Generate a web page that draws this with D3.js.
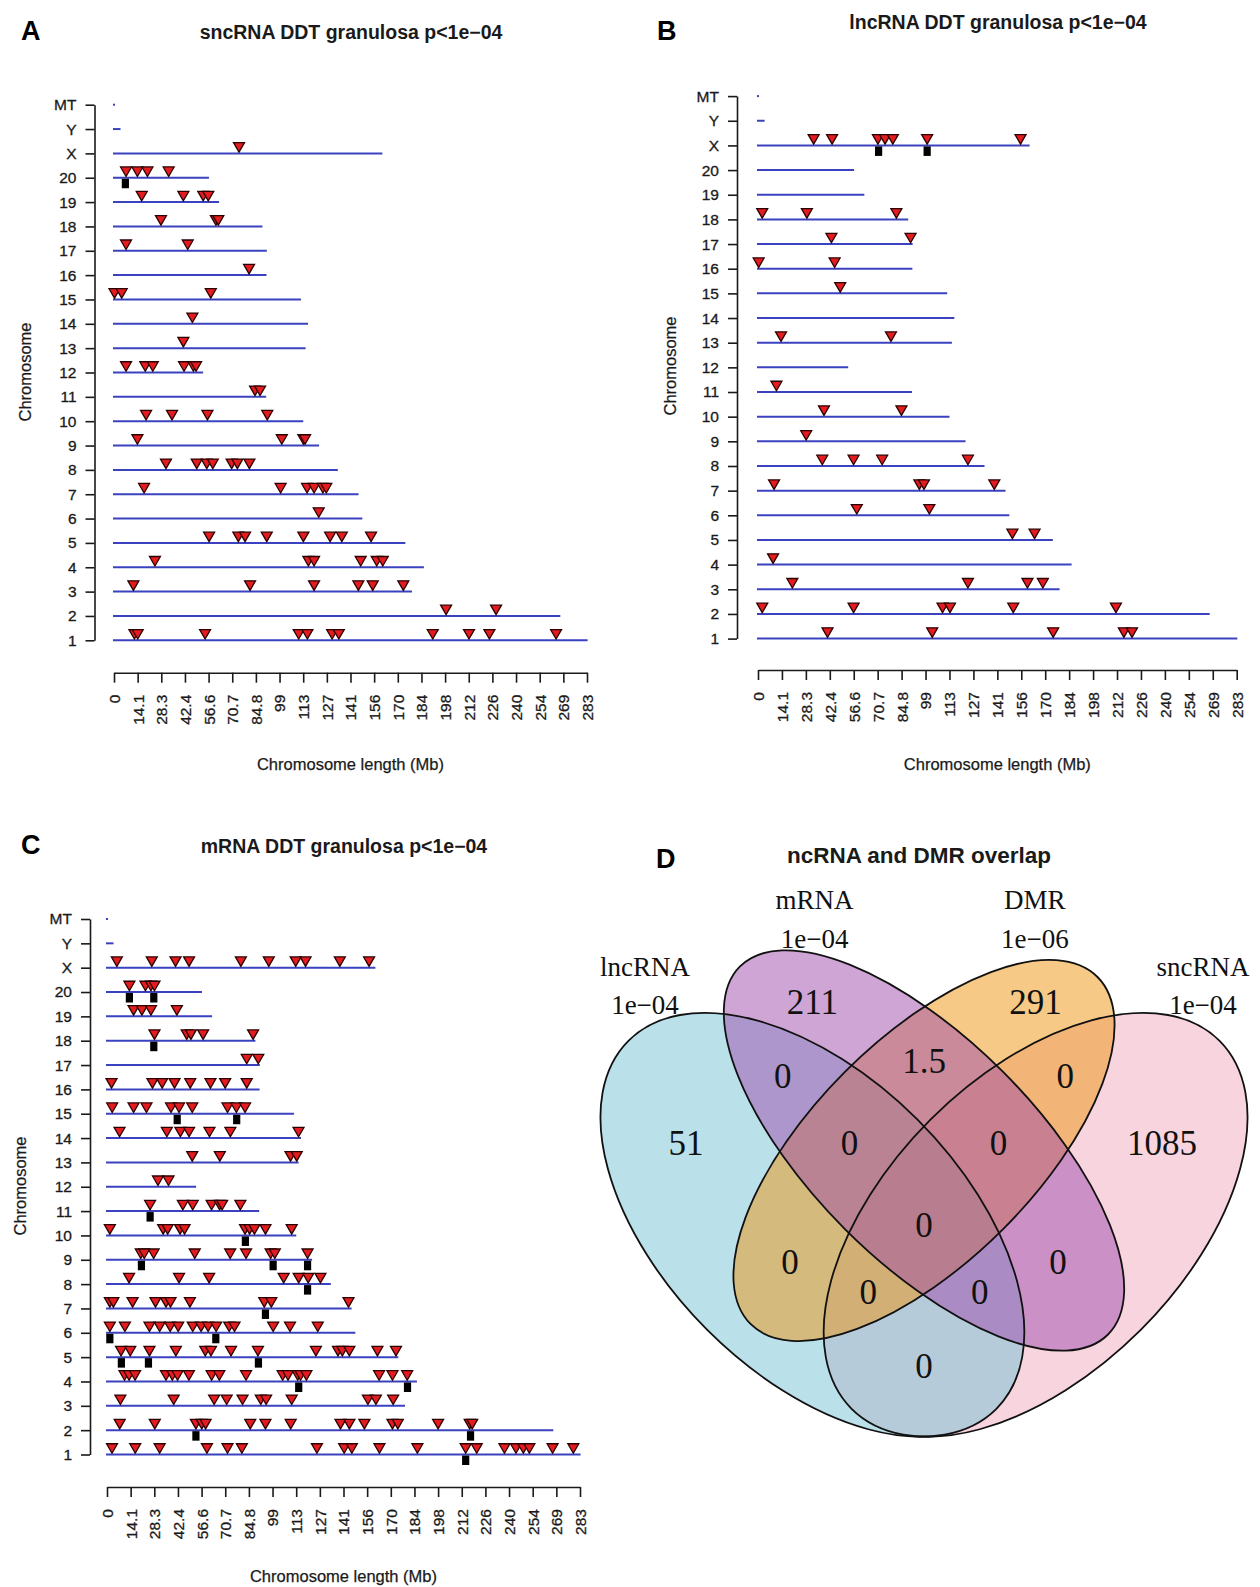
<!DOCTYPE html>
<html>
<head>
<meta charset="utf-8">
<script src="https://cdn.jsdelivr.net/npm/d3@7"></script>
<style>
  body { margin: 0; background: #fff; }
  svg { display: block; font-family: "Liberation Sans", Arial, Helvetica, sans-serif; }
</style>
</head>
<body>
<svg id="fig" width="1260" height="1587"></svg>
<script>

// =========================
// DATA
// =========================

const chromNames = ['1', '2', '3', '4', '5', '6', '7', '8', '9', '10', '11', '12', '13',
  '14', '15', '16', '17', '18', '19', '20', 'X', 'Y', 'MT'];

// rat chromosome lengths (Mb)
const chromLengthsMb = [282.76, 266.44, 177.70, 184.82, 173.71, 147.99, 145.73, 133.31,
  122.10, 112.63, 90.46, 52.72, 114.03, 115.49, 111.25, 90.67, 90.84, 88.20, 62.28, 56.21,
  159.97, 3.31, 0.016];

const xTickValues = [0, 14.15, 28.3, 42.45, 56.6, 70.75, 84.9, 99.05, 113.2, 127.35, 141.5,
  155.65, 169.8, 183.95, 198.1, 212.25, 226.4, 240.55, 254.7, 268.85, 283];
const xTickLabels = ['0', '14.1', '28.3', '42.4', '56.6', '70.7', '84.8', '99', '113', '127',
  '141', '156', '170', '184', '198', '212', '226', '240', '254', '269', '283'];

// significant features per chromosome (Mb)
const sncrnaHits = [
  ['1', [12.2, 14.2, 54.5, 110.5, 115.7, 130.5, 134.5, 190.7, 212.4, 224.6, 264.5]],
  ['2', [198.7, 228.6]],
  ['3', [11.6, 81.4, 119.7, 146.2, 154.8, 173.1]],
  ['4', [24.5, 116.3, 119.7, 147.6, 157.2, 160.8]],
  ['5', [56.9, 74.4, 78.4, 91.4, 113.3, 129.3, 136.3, 153.8]],
  ['6', [122.5]],
  ['7', [18.0, 99.7, 115.5, 119.7, 125.0, 127.0]],
  ['8', [31.1, 49.5, 55.5, 59.1, 70.4, 73.8, 81.0]],
  ['9', [14.0, 100.4, 113.3, 114.3]],
  ['10', [19.2, 34.7, 55.9, 91.7]],
  ['11', [84.4, 87.4]],
  ['12', [7.2, 18.7, 23.2, 41.9, 47.5, 49.1]],
  ['13', [41.5]],
  ['14', [46.9]],
  ['15', [0.3, 4.6, 57.9]],
  ['16', [80.8]],
  ['17', [7.2, 44.1]],
  ['18', [28.1, 61.0, 62.4]],
  ['19', [16.6, 41.5, 53.4, 56.4]],
  ['20', [7.2, 14.0, 20.0, 32.7]],
  ['X', [74.8]]
];
const sncrnaDmr = [['20', [6.8]]];

const lncrnaHits = [
  ['1', [41.1, 103.0, 174.5, 216.3, 221.1]],
  ['2', [2.5, 56.5, 109.1, 113.5, 150.9, 211.6]],
  ['3', [20.3, 124.1, 159.3, 168.4]],
  ['4', [8.9]],
  ['5', [150.4, 163.5]],
  ['6', [58.4, 101.3]],
  ['7', [9.5, 95.4, 98.1, 139.7]],
  ['8', [38.0, 56.5, 73.4, 124.1]],
  ['9', [28.5]],
  ['10', [39.0, 84.8]],
  ['11', [10.9]],
  ['13', [13.6, 78.6]],
  ['15', [48.6]],
  ['16', [0.4, 45.3]],
  ['17', [43.4, 90.2]],
  ['18', [2.5, 28.9, 81.8]],
  ['X', [32.9, 43.8, 70.9, 75.1, 79.7, 100.0, 155.2]]
];
const lncrnaDmr = [['X', [71.3, 100.0]]];

const mrnaHits = [
  ['1', [3.0, 16.9, 31.5, 59.8, 72.1, 80.7, 125.6, 141.9, 146.5, 163.0, 185.7, 214.6, 221.2,
    237.8, 244.7, 249.1, 252.7, 266.6, 279.0]],
  ['2', [7.6, 28.6, 53.2, 56.7, 59.0, 85.7, 94.8, 109.9, 139.7, 145.0, 154.0, 170.8, 174.0,
    198.1, 217.0, 218.5]],
  ['3', [8.0, 39.9, 64.1, 71.6, 81.1, 92.0, 95.2, 110.5, 156.1, 160.9, 171.2]],
  ['4', [10.5, 13.2, 16.8, 35.3, 39.1, 42.2, 49.0, 62.6, 67.2, 83.2, 105.1, 108.3, 114.1,
    115.8, 119.3, 162.8, 170.8, 179.6]],
  ['5', [8.4, 13.9, 25.4, 41.2, 58.8, 62.2, 74.2, 90.3, 125.0, 138.2, 140.8, 145.0, 161.8, 172.9]],
  ['6', [1.7, 10.7, 25.4, 31.5, 37.8, 42.6, 51.3, 56.3, 60.5, 65.3, 73.1, 76.3, 99.4, 109.5, 126.1]],
  ['7', [1.7, 3.8, 15.3, 29.0, 35.3, 38.0, 49.6, 94.1, 98.3, 144.5]],
  ['8', [13.2, 43.1, 61.1, 105.7, 114.7, 120.4, 127.7]],
  ['9', [20.2, 22.3, 27.9, 52.5, 73.7, 83.2, 97.9, 100.4, 120.0]],
  ['10', [1.7, 33.6, 36.3, 43.7, 46.4, 82.6, 85.3, 88.2, 94.8, 110.5]],
  ['11', [25.8, 45.4, 51.3, 62.6, 67.4, 68.9, 79.8]],
  ['12', [30.5, 36.8]],
  ['13', [51.0, 67.5, 109.8, 113.5]],
  ['14', [7.5, 35.8, 43.9, 49.1, 61.3, 73.8, 114.6]],
  ['15', [3.1, 15.9, 23.6, 38.3, 43.1, 51.0, 72.1, 77.4, 82.6]],
  ['16', [2.7, 27.2, 33.0, 40.4, 49.8, 61.9, 70.7, 83.6]],
  ['17', [83.6, 90.5]],
  ['18', [28.4, 47.7, 50.2, 57.5, 87.4]],
  ['19', [15.9, 20.9, 26.3, 41.8]],
  ['20', [13.4, 23.0, 26.3, 28.4]],
  ['X', [5.9, 26.8, 41.0, 49.1, 80.1, 96.8, 112.9, 118.8, 139.3, 156.8]]
];
const mrnaDmr = [
  ['1', [214.6]], ['2', [53.2, 217.5]], ['4', [114.7, 179.8]], ['5', [8.6, 24.8, 90.6]],
  ['6', [1.7, 65.1]], ['7', [94.8]], ['8', [120.0]], ['9', [20.6, 99.4, 120.0]],
  ['10', [82.8]], ['11', [25.8]], ['15', [42.0, 77.6]], ['18', [28.0]], ['20', [13.4, 28.0]]
];

// Venn diagram
const vennSets = ['lncRNA', 'mRNA', 'DMR', 'sncRNA'];
const vennThresholds = ['1e\u221204', '1e\u221204', '1e\u221206', '1e\u221204'];
// regions in VennDiagram quad order a1..a15
const vennCounts = ['211', '1.5', '291', '0', '0', '0', '0', '0', '51', '0', '0', '0', '0', '0', '1085'];

// =========================
// SETUP
// =========================

const svg = d3.select('#fig');
const ink = '#1a1a1a';

const flatten = list => list.flatMap(([c, ps]) => ps.map(p => ({ c, p })));

// =========================
// CHROMOSOME PANEL
// =========================

function drawPanel(p, hits, dmr) {

  const g = svg.append('g');

  const x = d3.scaleLinear()
    .domain([0, 283])
    .range([p.x0, p.x1]);

  const y = d3.scalePoint()
    .domain(chromNames)
    .range([p.yBot, p.yTop]);

  // chromosome backbones
  g.selectAll('.chr')
    .data(chromNames)
    .join('line')
    .attr('class', 'chr')
    .attr('x1', x(0))
    .attr('x2', (d, i) => x(chromLengthsMb[i]))
    .attr('y1', d => y(d))
    .attr('y2', d => y(d))
    .attr('stroke', '#3a42c0')
    .attr('stroke-width', 2)
    .attr('stroke-linecap', 'square');

  // y axis
  const ya = g.append('g')
    .attr('transform', `translate(${p.axisX},0)`)
    .call(d3.axisLeft(y).tickSize(9).tickPadding(9).tickSizeOuter(0))
    .attr('font-family', null)
    .attr('font-size', 15.5)
    .style('color', ink);
  ya.selectAll('path, line').attr('stroke-width', 1.6);
  ya.selectAll('text').attr('stroke', ink).attr('stroke-width', 0.3);

  // x axis
  const xa = g.append('g')
    .attr('transform', `translate(0,${p.xAxisY})`)
    .call(d3.axisBottom(x)
      .tickValues(xTickValues)
      .tickFormat((d, i) => xTickLabels[i])
      .tickSize(10)
      .tickSizeOuter(0))
    .attr('font-family', null)
    .attr('font-size', 15.5)
    .style('color', ink);
  xa.selectAll('path, line').attr('stroke-width', 1.6);
  xa.selectAll('text')
    .attr('transform', 'rotate(-90)')
    .attr('x', -22)
    .attr('y', 0)
    .attr('dy', '0.35em')
    .attr('text-anchor', 'end')
    .attr('stroke', ink)
    .attr('stroke-width', 0.3);

  // DMR marks
  g.selectAll('.dmr')
    .data(flatten(dmr))
    .join('rect')
    .attr('class', 'dmr')
    .attr('x', d => x(d.p) - 3.6)
    .attr('y', d => y(d.c) + 1)
    .attr('width', 7.2)
    .attr('height', 9.5)
    .attr('fill', '#000');

  // significant features
  const tri = d3.symbol(d3.symbolTriangle, 52);
  g.selectAll('.hit')
    .data(flatten(hits))
    .join('path')
    .attr('class', 'hit')
    .attr('d', tri)
    .attr('transform', d => `translate(${x(d.p)},${y(d.c) - 7.6}) rotate(180)`)
    .attr('fill', '#e41b1f')
    .attr('stroke', '#2a0000')
    .attr('stroke-width', 1.3);

  // labels
  g.append('text')
    .attr('x', p.titleX)
    .attr('y', p.titleY)
    .attr('text-anchor', 'middle')
    .attr('font-weight', 'bold')
    .attr('font-size', 19.5)
    .attr('fill', ink)
    .text(p.title);

  g.append('text')
    .attr('x', p.letterX)
    .attr('y', p.letterY)
    .attr('font-weight', 'bold')
    .attr('font-size', 27)
    .attr('fill', '#000')
    .text(p.letter);

  g.append('text')
    .attr('x', (p.x0 + p.x1) / 2)
    .attr('y', p.xTitleY)
    .attr('text-anchor', 'middle')
    .attr('font-size', 16.5)
    .attr('fill', ink)
    .attr('stroke', ink)
    .attr('stroke-width', 0.25)
    .text('Chromosome length (Mb)');

  g.append('text')
    .attr('transform', `translate(${p.yTitleX},${p.yTitleMid}) rotate(-90)`)
    .attr('text-anchor', 'middle')
    .attr('font-size', 16.5)
    .attr('fill', ink)
    .attr('stroke', ink)
    .attr('stroke-width', 0.25)
    .text('Chromosome');
}

drawPanel({
  letter: 'A', letterX: 21, letterY: 40,
  title: 'sncRNA DDT granulosa p<1e\u221204', titleX: 351, titleY: 39,
  axisX: 94.5, x0: 114, x1: 587, yTop: 104.7, yBot: 640.3, xAxisY: 672.7,
  xTitleY: 769.5, yTitleX: 30.5, yTitleMid: 372
}, sncrnaHits, sncrnaDmr);

drawPanel({
  letter: 'B', letterX: 657, letterY: 40,
  title: 'lncRNA DDT granulosa p<1e\u221204', titleX: 998, titleY: 29,
  axisX: 737, x0: 758, x1: 1236.7, yTop: 96.1, yBot: 638.6, xAxisY: 670,
  xTitleY: 769.5, yTitleX: 675.5, yTitleMid: 366
}, lncrnaHits, lncrnaDmr);

drawPanel({
  letter: 'C', letterX: 21, letterY: 853.5,
  title: 'mRNA DDT granulosa p<1e\u221204', titleX: 344, titleY: 852.5,
  axisX: 90, x0: 107, x1: 580, yTop: 919, yBot: 1454.5, xAxisY: 1487,
  xTitleY: 1581.5, yTitleX: 25.7, yTitleMid: 1186
}, mrnaHits, mrnaDmr);

// =========================
// VENN DIAGRAM
// =========================

function drawVenn() {

  const g = svg.append('g');

  // VennDiagram unit square -> page
  const vx = d3.scaleLinear().domain([0, 1]).range([552, 1296]);
  const vy = d3.scaleLinear().domain([0, 1]).range([1574, 831]);
  const k = 743.5;

  // draw order: sncRNA, lncRNA, DMR, mRNA
  const ellipses = [
    { set: 'sncRNA', cx: 0.65, cy: 0.47, a: 0.35, b: 0.20, rot: 45, fill: '#efaabe' },
    { set: 'lncRNA', cx: 0.35, cy: 0.47, a: 0.35, b: 0.20, rot: 135, fill: '#76c1d6' },
    { set: 'DMR', cx: 0.50, cy: 0.57, a: 0.33, b: 0.15, rot: 45, fill: '#ee9410' },
    { set: 'mRNA', cx: 0.50, cy: 0.57, a: 0.35, b: 0.15, rot: 135, fill: '#a04cac' }
  ];

  const shape = sel => sel
    .attr('cx', d => vx(d.cx))
    .attr('cy', d => vy(d.cy))
    .attr('rx', d => d.a * k)
    .attr('ry', d => d.b * k)
    .attr('transform', d => `rotate(${-d.rot},${vx(d.cx)},${vy(d.cy)})`);

  g.selectAll('.vfill')
    .data(ellipses)
    .join('ellipse')
    .attr('class', 'vfill')
    .call(shape)
    .attr('fill', d => d.fill)
    .attr('fill-opacity', 0.5)
    .attr('stroke', 'none');

  g.selectAll('.vline')
    .data(ellipses)
    .join('ellipse')
    .attr('class', 'vline')
    .call(shape)
    .attr('fill', 'none')
    .attr('stroke', '#111')
    .attr('stroke-width', 1.8);

  const regionPos = [
    [0.35, 0.77], [0.5, 0.69], [0.65, 0.77], [0.31, 0.67], [0.4, 0.58],
    [0.5, 0.47], [0.6, 0.58], [0.69, 0.67], [0.18, 0.58], [0.32, 0.42],
    [0.425, 0.38], [0.5, 0.28], [0.575, 0.38], [0.68, 0.42], [0.82, 0.58]
  ];

  g.selectAll('.vcount')
    .data(vennCounts)
    .join('text')
    .attr('class', 'vcount')
    .attr('x', (d, i) => vx(regionPos[i][0]))
    .attr('y', (d, i) => vy(regionPos[i][1]))
    .attr('dy', '0.34em')
    .attr('text-anchor', 'middle')
    .attr('font-family', '"Liberation Serif", "Times New Roman", serif')
    .attr('font-size', 35)
    .attr('fill', '#111')
    .text(d => d);

  const catPos = [[0.125, 0.818, 0.767], [0.353, 0.908, 0.855], [0.649, 0.908, 0.855], [0.875, 0.818, 0.767]];

  vennSets.forEach((s, i) => {
    const [u, v1, v2] = catPos[i];
    [[s, v1], [vennThresholds[i], v2]].forEach(([txt, v]) => {
      g.append('text')
        .attr('x', vx(u))
        .attr('y', vy(v))
        .attr('dy', '0.35em')
        .attr('text-anchor', 'middle')
        .attr('font-family', '"Liberation Serif", "Times New Roman", serif')
        .attr('font-size', 27)
        .attr('fill', '#111')
        .text(txt);
    });
  });

  g.append('text')
    .attr('x', 919)
    .attr('y', 863)
    .attr('text-anchor', 'middle')
    .attr('font-weight', 'bold')
    .attr('font-size', 22.5)
    .attr('fill', ink)
    .text('ncRNA and DMR overlap');

  g.append('text')
    .attr('x', 656)
    .attr('y', 867.5)
    .attr('font-weight', 'bold')
    .attr('font-size', 27)
    .attr('fill', '#000')
    .text('D');
}

drawVenn();

</script>
</body>
</html>
